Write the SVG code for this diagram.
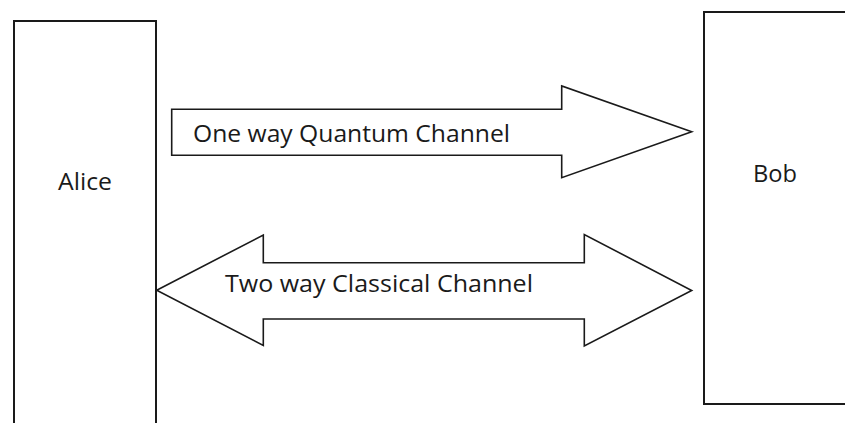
<svg xmlns="http://www.w3.org/2000/svg" width="845" height="423" viewBox="0 0 845 423">
  <style>
    .box { fill: #fff; stroke: #1a1a1a; stroke-width: 2; }
    .arrow { fill: #fff; stroke: #1a1a1a; stroke-width: 1.6; stroke-linejoin: miter; }
    .label { font-family: "Open Sans", "Liberation Sans", sans-serif; font-size: 23px; fill: #1a1a1a; }
  </style>
  <rect width="845" height="423" fill="#fff"/>

  <g id="alice">
    <rect class="box" x="14" y="21" width="142" height="420"/>
    <text class="label" x="58" y="190" textLength="54" lengthAdjust="spacingAndGlyphs">Alice</text>
  </g>

  <g id="bob">
    <rect class="box" x="704" y="12" width="160" height="392"/>
    <text class="label" x="753" y="182" textLength="44" lengthAdjust="spacingAndGlyphs">Bob</text>
  </g>

  <g id="connectors">
    <g id="quantum-channel">
      <path class="arrow" d="M171.7,109.3 H561.7 V86 L691.7,131.7 L561.7,177.7 V155.3 H171.7 Z"/>
      <text class="label" x="193" y="142" textLength="317" lengthAdjust="spacingAndGlyphs">One way Quantum Channel</text>
    </g>
    <g id="classical-channel">
      <path class="arrow" d="M156.7,290.3 L263.3,235 V262.7 H584.3 V234.5 L691.7,290.5 L584.3,346 V319 H263.3 V345.5 Z"/>
      <text class="label" x="225" y="292" textLength="308" lengthAdjust="spacingAndGlyphs">Two way Classical Channel</text>
    </g>
  </g>
</svg>
